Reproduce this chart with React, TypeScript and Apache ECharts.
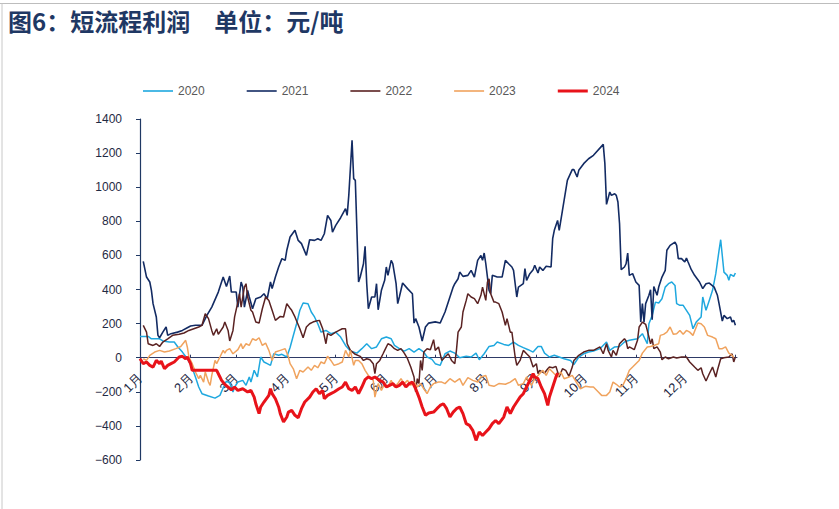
import React, { useEffect, useRef } from "react";
import * as echarts from "echarts";

const years = ["2020", "2021", "2022", "2023", "2024"];
const colors = ["#1fa8df", "#132b63", "#5a2222", "#f0a35e", "#e8131a"];
const widths = [1.5, 1.6, 1.5, 1.5, 3];

const monthStarts = [0, 31, 59, 90, 120, 151, 181, 212, 243, 273, 304, 334, 365];
const monthLabels = ["1月", "2月", "3月", "4月", "5月", "6月", "7月", "8月", "9月", "10月", "11月", "12月"];
const yTicks = { min: -600, max: 1400, interval: 200 };

const days2020 = [0, 5, 7, 12, 14, 18, 21, 23, 26, 29, 32, 34, 36, 38, 42, 46, 49, 51, 53, 55, 57, 58, 60, 63, 65, 67, 68, 70, 72, 74, 76, 78, 80, 82, 85, 87, 90, 92, 94, 96, 98, 100, 103, 105, 107, 109, 111, 114, 117, 120, 123, 126, 129, 133, 136, 139, 142, 145, 148, 151, 154, 156, 159, 162, 165, 168, 171, 174, 176, 179, 181, 184, 187, 190, 193, 196, 200, 203, 206, 208, 211, 214, 217, 219, 223, 226, 229, 232, 235, 238, 241, 244, 246, 248, 251, 254, 257, 260, 264, 266, 269, 272, 275, 278, 282, 286, 288, 291, 294, 297, 300, 305, 308, 311, 312, 314, 316, 318, 320, 322, 324, 326, 328, 329, 331, 333, 335, 337, 339, 341, 344, 345, 347, 349, 351, 353, 355, 356, 358, 360, 361, 362, 364, 365];
const vals2020 = [125, 125, 111, 111, 98, 92, 92, 66, 33, -6, -59, -113, -172, -211, -225, -237, -221, -176, -137, -149, -201, -172, -143, -133, -162, -113, -143, -74, -113, 4, -25, -35, -45, 23, 14, 20, 4, 60, 130, 199, 278, 321, 317, 268, 239, 199, 150, 160, 141, 150, 121, 72, 39, 27, 53, 82, 53, 63, 111, 121, 111, 72, 53, 39, 53, 33, 53, 33, 4, -10, -35, -45, 23, 39, 27, 0, 8, 4, 27, -12, 23, 66, 72, 92, 78, 72, 92, 72, 59, 47, 33, 66, 66, 27, 4, 14, 4, -6, -16, -41, 4, 23, 33, 39, 53, 92, 43, 63, 66, 92, 102, 111, 141, 82, 199, 248, 326, 321, 346, 414, 434, 444, 424, 317, 307, 307, 278, 248, 170, 209, 239, 356, 278, 336, 395, 493, 630, 692, 502, 483, 454, 489, 477, 497];

const days2021 = [2, 4, 6, 7, 8, 10, 11, 12, 14, 16, 17, 19, 23, 26, 29, 31, 34, 38, 41, 44, 48, 51, 53, 55, 56, 59, 60, 62, 63, 64, 66, 67, 69, 71, 74, 76, 78, 80, 81, 83, 85, 87, 89, 90, 92, 95, 97, 99, 102, 104, 107, 109, 111, 113, 115, 117, 118, 120, 123, 126, 127, 128, 130, 131, 132, 134, 135, 137, 138, 139, 140, 142, 144, 145, 146, 148, 150, 151, 152, 154, 155, 157, 158, 159, 161, 164, 167, 168, 169, 171, 173, 175, 177, 181, 184, 187, 190, 192, 193, 195, 196, 198, 201, 203, 205, 207, 209, 210, 211, 212, 214, 215, 216, 219, 222, 224, 226, 228, 229, 231, 232, 235, 236, 237, 239, 241, 242, 244, 245, 247, 249, 252, 253, 254, 256, 257, 259, 262, 265, 266, 268, 269, 272, 275, 278, 284, 285, 286, 288, 289, 291, 292, 293, 294, 295, 297, 298, 299, 300, 302, 304, 306, 307, 308, 309, 310, 312, 313, 314, 315, 317, 318, 320, 322, 323, 325, 328, 329, 330, 332, 334, 335, 336, 338, 340, 343, 345, 347, 349, 352, 354, 355, 357, 358, 360, 362, 363, 364, 365];
const vals2021 = [565, 473, 444, 395, 317, 239, 131, 117, 150, 180, 131, 141, 150, 160, 176, 186, 190, 190, 248, 297, 385, 473, 418, 479, 385, 385, 297, 444, 414, 297, 395, 356, 287, 346, 356, 375, 346, 444, 405, 473, 532, 581, 571, 630, 708, 747, 688, 669, 600, 692, 688, 698, 688, 727, 835, 805, 737, 776, 821, 874, 835, 952, 1275, 1050, 1040, 444, 473, 551, 653, 434, 287, 356, 356, 434, 281, 395, 454, 532, 483, 571, 551, 434, 317, 356, 438, 405, 375, 203, 229, 180, 98, 180, 203, 210, 203, 268, 356, 414, 434, 463, 502, 477, 483, 512, 473, 571, 600, 571, 614, 551, 395, 375, 483, 473, 473, 571, 551, 532, 512, 356, 414, 434, 522, 454, 493, 516, 542, 497, 532, 512, 536, 532, 698, 747, 805, 747, 864, 1040, 1103, 1103, 1060, 1099, 1138, 1167, 1187, 1251, 1138, 899, 972, 952, 962, 952, 913, 786, 516, 532, 551, 614, 483, 493, 444, 424, 209, 317, 209, 317, 366, 399, 223, 418, 366, 414, 473, 512, 630, 659, 678, 659, 581, 581, 561, 585, 561, 516, 483, 444, 405, 434, 438, 414, 366, 317, 215, 248, 229, 239, 209, 219, 190];

const days2022 = [2, 4, 5, 8, 10, 12, 14, 17, 20, 24, 27, 30, 33, 36, 38, 40, 42, 44, 45, 47, 48, 51, 52, 54, 55, 57, 58, 60, 61, 62, 64, 65, 66, 68, 69, 71, 73, 75, 77, 79, 81, 83, 86, 88, 90, 92, 93, 95, 98, 100, 102, 104, 106, 108, 110, 112, 114, 115, 117, 120, 122, 124, 126, 127, 129, 132, 135, 137, 139, 141, 143, 144, 145, 147, 149, 150, 152, 154, 156, 158, 160, 162, 164, 166, 168, 169, 170, 171, 172, 173, 174, 176, 178, 180, 181, 183, 185, 187, 189, 191, 193, 194, 195, 197, 198, 200, 201, 203, 205, 207, 209, 210, 212, 213, 214, 215, 217, 218, 220, 222, 224, 225, 227, 228, 230, 231, 233, 235, 237, 239, 241, 243, 244, 245, 248, 250, 251, 253, 255, 257, 259, 261, 263, 265, 266, 269, 272, 275, 278, 282, 284, 286, 287, 289, 290, 292, 294, 297, 298, 299, 300, 303, 305, 306, 308, 310, 311, 313, 314, 315, 317, 319, 320, 322, 324, 327, 329, 332, 335, 337, 340, 342, 344, 345, 347, 349, 351, 353, 354, 356, 358, 361, 363, 364, 365];
const vals2022 = [190, 150, 82, 72, 82, 66, 92, 111, 131, 137, 145, 160, 170, 180, 190, 258, 229, 160, 131, 170, 137, 180, 209, 160, 98, 160, 239, 326, 375, 297, 414, 434, 356, 278, 268, 209, 203, 287, 356, 336, 278, 219, 242, 239, 317, 290, 278, 239, 170, 117, 180, 199, 209, 215, 219, 170, 82, 141, 131, 150, 160, 170, 170, 82, 43, 20, 8, -16, -6, -12, -35, -94, -35, -16, 23, 43, 82, 72, 53, 43, 53, 27, -6, -55, -113, -201, -123, -152, -16, -74, 33, 53, 47, 106, 43, 63, -16, 4, 23, -16, -35, 43, 150, 180, 268, 336, 375, 356, 346, 317, 366, 414, 336, 444, 463, 375, 326, 326, 317, 268, 190, 229, 150, 150, 4, -45, -16, 43, 23, 4, -55, -35, -94, -74, -90, -65, -55, -59, -51, -113, -65, -74, -109, -55, -16, 14, 33, 43, 43, 63, 23, 82, 43, 4, 43, 14, 82, 111, 98, 53, 63, 47, 102, 180, 209, 196, 160, 82, 111, 53, 63, 33, -12, 4, -6, 4, -2, 4, 4, -25, -55, -74, -59, -94, -137, -94, -55, -113, -74, -6, 0, 4, 23, -25, 4];

const days2023 = [2, 4, 6, 9, 12, 15, 18, 22, 25, 28, 29, 30, 32, 34, 36, 37, 39, 40, 42, 43, 44, 46, 47, 49, 51, 52, 53, 55, 57, 60, 62, 63, 65, 67, 69, 71, 73, 75, 77, 79, 81, 83, 86, 89, 91, 92, 94, 96, 98, 100, 103, 105, 107, 109, 111, 113, 115, 117, 119, 122, 124, 126, 128, 129, 131, 132, 134, 136, 138, 140, 143, 144, 146, 148, 150, 152, 154, 156, 158, 160, 162, 164, 166, 168, 170, 172, 174, 176, 178, 180, 183, 185, 187, 190, 193, 196, 198, 201, 204, 207, 209, 212, 214, 217, 220, 224, 227, 230, 232, 235, 237, 240, 242, 244, 247, 249, 251, 254, 256, 258, 260, 263, 265, 268, 270, 273, 276, 278, 281, 283, 286, 288, 290, 292, 294, 296, 298, 300, 302, 304, 306, 308, 311, 313, 315, 318, 319, 321, 323, 325, 327, 329, 331, 333, 335, 337, 339, 342, 344, 346, 348, 351, 353, 355, 357, 359, 361, 363, 364];
const vals2023 = [-6, -16, 14, 33, 43, 33, 39, 53, 66, 102, 63, 4, -35, -84, -123, -104, -143, -84, -143, -162, -104, -16, -35, 4, 43, 27, 43, 53, 23, 47, 82, 53, 82, 72, 111, 102, 117, 72, 86, 43, -16, 33, 43, 53, 4, -35, -65, -123, -74, -84, -55, -74, -45, -59, -25, -35, 8, -16, -45, -35, -25, 43, 4, 43, -45, -16, -16, -35, -74, -104, -133, -231, -152, -192, -152, -172, -133, -172, -152, -123, -152, -133, -162, -143, -172, -152, -182, -211, -172, -152, -143, -143, -152, -123, -143, -123, -162, -117, -133, -143, -113, -104, -162, -168, -152, -156, -143, -123, -162, -152, -113, -162, -123, -104, -74, -104, -65, -94, -113, -84, -123, -113, -104, -152, -182, -168, -172, -172, -201, -221, -221, -201, -143, -156, -172, -162, -123, -74, -55, -35, -16, 27, 63, 66, 72, 82, 131, 137, 150, 180, 137, 141, 160, 137, 160, 150, 131, 203, 199, 180, 131, 121, 111, 53, 53, 63, 27, 14, 0];

const days2024 = [0, 2, 4, 6, 8, 10, 12, 13, 15, 17, 19, 21, 24, 26, 28, 29, 31, 32, 35, 47, 49, 50, 52, 54, 56, 58, 60, 63, 66, 68, 70, 71, 73, 74, 76, 79, 80, 81, 83, 85, 86, 88, 90, 91, 93, 95, 97, 99, 101, 104, 106, 108, 110, 112, 113, 115, 117, 119, 122, 124, 126, 128, 130, 132, 134, 136, 138, 140, 142, 144, 147, 149, 151, 153, 155, 157, 159, 161, 163, 165, 167, 169, 171, 173, 175, 177, 180, 182, 184, 186, 188, 190, 192, 194, 196, 198, 200, 202, 204, 206, 208, 210, 212, 214, 216, 218, 220, 223, 225, 227, 229, 231, 233, 235, 237, 239, 241, 242, 244, 246, 248, 250, 251, 253, 255, 256];
const vals2024 = [-6, -35, -25, -45, -55, -16, -35, -20, -65, -45, -35, -25, 4, 8, -6, 4, -35, -74, -74, -74, -113, -133, -156, -172, -188, -172, -192, -182, -201, -192, -231, -270, -328, -289, -260, -221, -182, -211, -241, -289, -328, -377, -348, -319, -309, -338, -352, -299, -260, -231, -201, -182, -211, -192, -241, -221, -211, -201, -182, -172, -143, -182, -192, -172, -211, -172, -129, -113, -123, -113, -133, -143, -172, -162, -152, -172, -162, -143, -172, -152, -143, -182, -231, -289, -338, -324, -319, -299, -280, -270, -299, -348, -319, -299, -289, -328, -387, -397, -426, -485, -436, -456, -436, -416, -387, -368, -387, -348, -289, -328, -289, -260, -231, -211, -172, -133, -94, -113, -123, -172, -211, -280, -231, -172, -113, -90];

const allDays = [days2020, days2021, days2022, days2023, days2024];
const allVals = [vals2020, vals2021, vals2022, vals2023, vals2024];

const axisFont = "'Liberation Sans', Arial, sans-serif";
const gridTop = 119;
const gridBottom = 49;
const chartH = 509;
const gridH = chartH - gridTop - gridBottom;
// the month axis sits on the zero line
const zeroOffset = -gridH * (0 - yTicks.min) / (yTicks.max - yTicks.min);

export default function App() {
  const ref = useRef<HTMLDivElement>(null);
  useEffect(() => {
    if (!ref.current) return;
    const chart = echarts.init(ref.current, null, { renderer: "svg" });
    const series = years.map((y, i) => ({
      name: y,
      type: "line",
      symbol: "none",
      showSymbol: false,
      data: allDays[i].map((d, j) => [d, allVals[i][j]]),
      lineStyle: { color: colors[i], width: widths[i] },
      itemStyle: { color: colors[i] },
      z: 2 + i,
    }));
    chart.setOption({
      animation: false,
      backgroundColor: "#ffffff",
      title: {
        text: "图6：短流程利润　单位：元/吨",
        left: 3,
        top: 3,
        textStyle: {
          fontFamily: "'Noto Sans CJK SC', sans-serif",
          fontWeight: "bold",
          fontSize: 24,
          color: "#1f3864",
        },
      },
      graphic: [
        { type: "line", shape: { x1: 0, y1: 3.5, x2: 839, y2: 3.5 }, style: { stroke: "#bdbdbd", lineWidth: 1 } },
        { type: "line", shape: { x1: 2, y1: 3.5, x2: 2, y2: 509 }, style: { stroke: "#c8c8c8", lineWidth: 1 } },
      ],
      legend: {
        top: 80,
        left: 138,
        itemWidth: 30,
        itemHeight: 14,
        itemGap: 42,
        symbolKeepAspect: true,
        textStyle: { color: "#595959", fontSize: 12, fontFamily: axisFont },
        data: years.map((y, i) => ({
          name: y,
          icon: i === 4 ? "path://M0,0H30V3H0Z" : "path://M0,0H30V1.6H0Z",
          itemStyle: { color: colors[i] },
        })),
      },
      grid: { left: 140, right: 102, top: gridTop, bottom: gridBottom, containLabel: false, outerBoundsMode: "none" },
      xAxis: {
        type: "value",
        min: 0,
        max: 366,
        position: "bottom",
        offset: zeroOffset,
        axisLine: { onZero: false, lineStyle: { color: "#2e3a66", width: 1 } },
        axisTick: { show: true, inside: true, length: 3, customValues: monthStarts, lineStyle: { color: "#2e3a66" } },
        axisLabel: {
          customValues: monthStarts.slice(0, 12),
          rotate: 45,
          margin: 18,
          color: "#1f2a44",
          fontSize: 13,
          fontFamily: axisFont,
          formatter: (v: number) => monthLabels[monthStarts.indexOf(v)] ?? "",
        },
        splitLine: { show: false },
      },
      yAxis: {
        type: "value",
        min: yTicks.min,
        max: yTicks.max,
        interval: yTicks.interval,
        axisLine: { show: true, lineStyle: { color: "#1f3864", width: 1.2 } },
        axisTick: { show: true, inside: false, length: 4, lineStyle: { color: "#1f3864" } },
        axisLabel: {
          margin: 18,
          color: "#1f2a44",
          fontSize: 12,
          fontFamily: axisFont,
          formatter: (v: number) => String(v).replace("-", "−"),
        },
        splitLine: { show: false },
      },
      series,
    });
    return () => chart.dispose();
  }, []);
  return (
    <div
      ref={ref}
      style={{ position: "fixed", left: 0, top: 0, width: 839, height: 509, background: "#fff" }}
    />
  );
}
